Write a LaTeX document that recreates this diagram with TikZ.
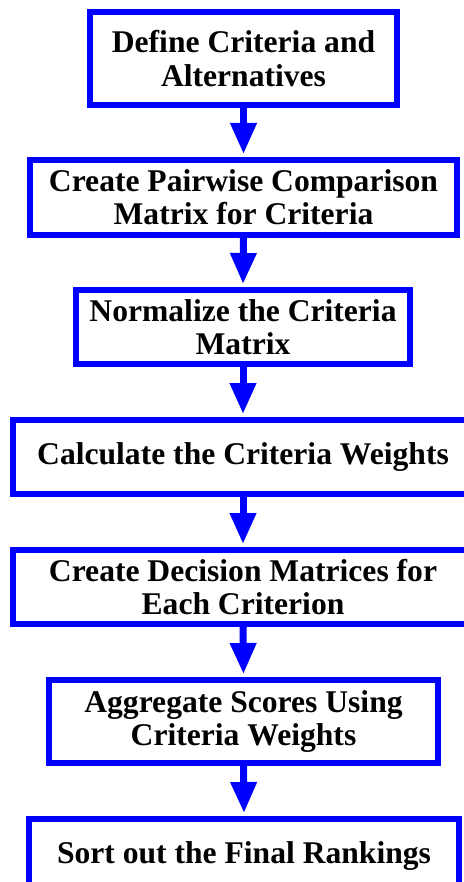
\documentclass[tikz,border=0pt]{standalone}
\usepackage{fontspec}
\setmainfont{Liberation Serif}
\usetikzlibrary{arrows.meta}
\definecolor{boxblue}{RGB}{0,0,255}
\tikzset{
  stepbox/.style={draw=boxblue, line width=3pt, fill=white, align=center,
    font=\fontsize{15.8pt}{16.6pt}\selectfont\bfseries, inner sep=0pt},
  flowarrow/.style={draw=boxblue, line width=3.5pt,
    -{Triangle[width=12.5pt,length=15.5pt]}, shorten >=1.5pt}
}
\begin{document}
\begin{tikzpicture}[x=0.5pt,y=-0.5pt]
\useasboundingbox (0,0) rectangle (464,882);
\node[stepbox, minimum width=153.5pt, minimum height=46.5pt] (b1) at (243.5,58.5)
  {Define Criteria and\\Alternatives};
\node[stepbox, minimum width=213.5pt, minimum height=37.5pt] (b2) at (243.5,197.5)
  {Create Pairwise Comparison\\Matrix for Criteria};
\node[stepbox, minimum width=167pt, minimum height=37pt] (b3) at (243,327)
  {Normalize the Criteria\\Matrix};
\node[stepbox, minimum width=230pt, minimum height=37pt] (b4) at (243,457)
  {Calculate the Criteria Weights};
\node[stepbox, minimum width=230pt, minimum height=37pt] (b5) at (243,587)
  {Create Decision Matrices for\\Each Criterion};
\node[stepbox, minimum width=194.5pt, minimum height=41.5pt] (b6) at (243.5,721.5)
  {Aggregate Scores Using\\Criteria Weights};
\node[stepbox, minimum width=215pt, minimum height=37pt] (b7) at (244,856)
  {Sort out the Final Rankings};
\draw[flowarrow] (b1.south) -- (b2.north);
\draw[flowarrow] (b2.south) -- (b3.north);
\draw[flowarrow] (b3.south) -- (b4.north);
\draw[flowarrow] (b4.south) -- (b5.north);
\draw[flowarrow] (b5.south) -- (b6.north);
\draw[flowarrow] (b6.south) -- (b7.north);
\end{tikzpicture}
\end{document}
